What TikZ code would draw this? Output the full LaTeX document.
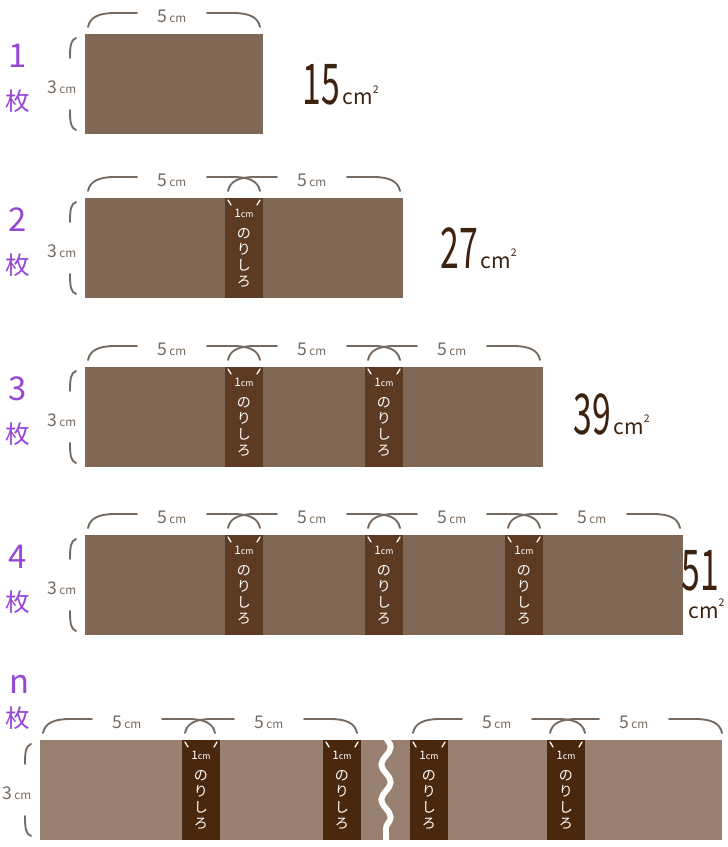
\documentclass[tikz,border=0pt]{standalone}
\usepackage{fontspec}
\setmainfont{Noto Sans CJK JP}
\usetikzlibrary{positioning,decorations.pathmorphing}
\definecolor{sheetbrown}{RGB}{128,104,86}
\definecolor{gluebrown}{RGB}{93,58,34}
\definecolor{sheetpale}{RGB}{152,129,112}
\definecolor{gluedark}{RGB}{74,40,14}
\definecolor{bracegray}{RGB}{118,106,96}
\definecolor{areabrown}{RGB}{62,34,16}
\definecolor{countpurple}{RGB}{150,70,215}
\newcommand{\smallcm}{{\fontsize{10}{10}\selectfont\,cm}}
\newcommand{\tinycm}{{\fontsize{7.5}{7.5}\selectfont cm}}
\newcommand{\areaval}[1]{\scalebox{0.6}[1]{#1}}
\newcommand{\sqtwo}{\raisebox{10pt}{\fontsize{9}{9}\selectfont 2}}
\tikzset{
  sheet/.style    ={fill=sheetbrown},
  glue/.style     ={fill=gluebrown},
  sheetn/.style   ={fill=sheetpale},
  gluen/.style    ={fill=gluedark},
  brace/.style    ={draw=bracegray, line width=1.6pt, line cap=round},
  dimlabel/.style ={text=bracegray, inner sep=0pt, font=\fontsize{15}{15}\selectfont},
  gluecm/.style   ={text=white, inner sep=0pt, font=\fontsize{10}{10}\selectfont},
  gluetext/.style ={text=white, inner sep=0pt, align=center,
                    font=\fontsize{12}{13.6}\selectfont},
  gluetick/.style ={draw=white, line width=1.1pt, line cap=round},
  count/.style    ={text=countpurple, inner sep=0pt, font=\fontsize{28}{28}\selectfont},
  countkanji/.style={count, font=\fontsize{21}{21}\selectfont},
  area/.style     ={text=areabrown, inner sep=0pt, anchor=base,
                    font=\fontsize{48}{48}\selectfont},
  areaunit/.style ={text=areabrown, inner sep=0pt, anchor=base west,
                    font=\fontsize{18}{18}\selectfont},
  wavecut/.style  ={draw=white, line width=5pt, decorate,
                    decoration={snake, amplitude=4pt, segment length=30pt}},
  pics/topbrace/.style={code={
    \draw[brace] (3,-7) .. controls (5,-17) and (14,-21) .. (30,-21) -- (52,-21);
    \node[dimlabel] (-lbl) at (87,-18) {5\smallcm};
    \draw[brace] (122,-21) -- (148,-21) .. controls (164,-21) and (173,-17) .. (175,-7);
  }},
  pics/sidebrace/.style={code={
    \draw[brace] (-9,4) .. controls (-14,6) and (-15,11) .. (-15,24);
    \node[dimlabel] (-lbl) at (-23,53) {3\smallcm};
    \draw[brace] (-15,76) .. controls (-15,89) and (-14,94) .. (-9,96);
  }},
  pics/gluemark/.style={code={
    \draw[gluetick] (3,2) -- (6,7);
    \draw[gluetick] (35,2) -- (32,7);
    \node[gluecm] (-cm) at (19,15) {1\tinycm};
    \node[gluetext] (-txt) at (19,60) {の\\り\\し\\ろ};
  }},
}

\begin{document}
\begin{tikzpicture}[x=0.03cm, y=-0.03cm]
\useasboundingbox (0,0) rectangle (727,847);
% one to four sheets
\foreach \k/\yt in {1/34, 2/198, 3/367, 4/535} {
  \fill[sheet] (85,\yt) rectangle (85+140*\k+38,\yt+100);
  \ifnum\k>1
    \foreach \i in {2,...,\k} {
      \fill[glue] (85+140*\i-140,\yt) rectangle ++(38,100);
      \pic (g\k-\i) at (85+140*\i-140,\yt) {gluemark};
    }
  \fi
  \foreach \i in {1,...,\k} {
    \pic (w\k-\i) at (85+140*\i-140,\yt) {topbrace};
  }
  \pic (h\k) at (85,\yt) {sidebrace};
  \node[count] (c\k) at (18,\yt+22) {\k};
  \node[countkanji] (m\k) at (18,\yt+67) {枚};
}
\node[area] (a1) at (321,105) {\areaval{15}};
\node[areaunit] (u1) at ([xshift=2pt]a1.base east) {cm\sqtwo};
\node[area] (a2) at (459,268) {\areaval{27}};
\node[areaunit] (u2) at ([xshift=2pt]a2.base east) {cm\sqtwo};
\node[area] (a3) at (592,434) {\areaval{39}};
\node[areaunit] (u3) at ([xshift=2pt]a3.base east) {cm\sqtwo};
\node[area] (a4) at (700,590) {\areaval{51}};
\node[areaunit] (u4) at (688,618) {cm\sqtwo};
% n sheets
\fill[sheetn] (40,740) rectangle (722,840);
\foreach \s [count=\j] in {182,323,410,547} {
  \fill[gluen] (\s,740) rectangle ++(38,100);
  \pic (gn-\j) at (\s,740) {gluemark};
}
\foreach \s [count=\j] in {40,182,410,547} {
  \pic (wn-\j) at (\s,740) {topbrace};
}
\draw[wavecut] (386,736) -- (386,844);
\pic (hn) at (40,740) {sidebrace};
\node[count] (cn) at (20,684) {n};
\node[countkanji] (mn) at (18,718) {枚};
\end{tikzpicture}
\end{document}
